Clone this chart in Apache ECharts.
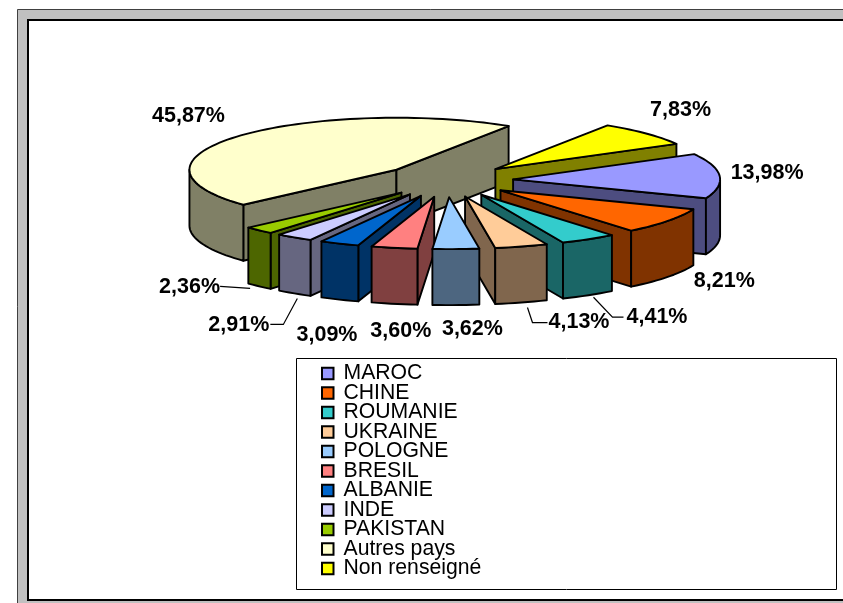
<!DOCTYPE html>
<html>
<head>
<meta charset="utf-8">
<style>html,body{margin:0;padding:0;background:#fff;overflow:hidden}#c{width:843px;height:603px}</style>
<script src="https://cdn.jsdelivr.net/npm/echarts@6/dist/echarts.min.js"></script>
</head>
<body>
<div id="c"></div>
<script>
var categories = ['MAROC','CHINE','ROUMANIE','UKRAINE','POLOGNE','BRESIL','ALBANIE','INDE','PAKISTAN','Autres pays','Non renseigné'];
var values = [13.98,8.21,4.41,4.13,3.62,3.60,3.09,2.91,2.36,45.87,7.83];
var colors = ['#9999FF','#FF6600','#33CCCC','#FFCC99','#99CCFF','#FF8080','#0066CC','#CCCCFF','#99CC00','#FFFFCC','#FFFF00'];

// Pie projection (layout only)
var CX = 447, CY = 180.5, RX = 207, RY = 52, DEPTH = 56, EXPLODE = 0.32, START_DEG = -29;
var FONT = '"Liberation Sans", Arial, sans-serif';
// Label offset from the slice's rim midpoint, in category order
var labelOffsets = [[47.5,-3],[56.5,60],[68.5,78],[57.5,76],[16.5,80],[6.5,83],[-12.5,91],[-55.5,88],[-69.5,57],[-50,-20],[34,-24]];
// Leader lines as offsets from the rim midpoint's lower edge, where present
var leaders = {2:[[5,2],[24,22],[35,22]],3:[[6,5],[11,20],[26,20]],7:[[3,5],[-11,31],[-24,31]],8:[[-9,2],[-39,0]]};

var total = values.reduce(function(a,b){return a+b;},0);
function toRad(d){return d*Math.PI/180;}
function sliceStart(i){var s=0;for(var k=0;k<i;k++)s+=values[k];return START_DEG+s/total*360;}
function darken(hex){
  var n=parseInt(hex.slice(1),16);
  var p=function(v){return ('0'+Math.round(v/2).toString(16)).slice(-2);};
  return '#'+p(n>>16&255)+p(n>>8&255)+p(n&255);
}
function rim(apex,deg,dy){return [apex[0]+RX*Math.cos(toRad(deg)),apex[1]+RY*Math.sin(toRad(deg))+(dy||0)];}
function arcPts(apex,a,b,dy){
  var pts=[],n=Math.max(2,Math.ceil((b-a)/2));
  for(var i=0;i<=n;i++)pts.push(rim(apex,a+(b-a)*i/n,dy));
  return pts;
}
var edge={stroke:'#000',lineWidth:1.9,lineJoin:'round'};
function poly(points,fill){
  return {type:'polygon',shape:{points:points},style:Object.assign({fill:fill},edge)};
}
function makeRender(i){
  return function(params,api){
    var v=api.value(0);
    var a0=sliceStart(i),a1=a0+v/total*360,mid=(a0+a1)/2;
    var apex=[CX+EXPLODE*RX*Math.cos(toRad(mid)),CY+EXPLODE*RY*Math.sin(toRad(mid))];
    var col=colors[i],dark=darken(col),kids=[];
    [[a0,Math.cos(toRad(a0))<0],[a1,Math.cos(toRad(a1))>0]].forEach(function(f){
      if(!f[1])return;
      var p=rim(apex,f[0]),q=rim(apex,f[0],DEPTH);
      kids.push(poly([apex,p,q,[apex[0],apex[1]+DEPTH]],dark));
    });
    // front curved wall: part of the arc in the lower half of the ellipse
    [[0,180],[360,540]].forEach(function(r){
      var s=Math.max(a0,r[0]),e=Math.min(a1,r[1]);
      if(e>s){
        kids.push(poly(arcPts(apex,s,e).concat(arcPts(apex,s,e,DEPTH).reverse()),dark));
      }
    });
    kids.push(poly([apex].concat(arcPts(apex,a0,a1)),col));
    var anchor=[CX+(1+EXPLODE)*RX*Math.cos(toRad(mid)),CY+(1+EXPLODE)*RY*Math.sin(toRad(mid))];
    if(leaders[i]){
      kids.push({type:'polyline',shape:{points:leaders[i].map(function(o){return [anchor[0]+o[0],anchor[1]+DEPTH+o[1]];})},
        style:{stroke:'#000',lineWidth:1.2,fill:null}});
    }
    kids.push({type:'text',style:{text:v.toFixed(2).replace('.',',')+'%',
      x:anchor[0]+labelOffsets[i][0],y:anchor[1]+labelOffsets[i][1],
      fill:'#000',font:'bold 21.5px '+FONT,textAlign:'center',textVerticalAlign:'middle'}});
    return {type:'group',children:kids};
  };
}
// paint back to front; a bigger slice reaches further back
var depthOrder=categories.map(function(_,i){
  var mid=sliceStart(i)+values[i]/total*180;
  return {i:i,y:Math.sin(toRad(mid))-values[i]/total};
}).sort(function(a,b){return a.y-b.y;}).map(function(o){return o.i;});

var series=categories.map(function(name,i){
  return {type:'custom',name:name,coordinateSystem:'none',data:[[values[i]]],
    itemStyle:{color:colors[i]},z:3+depthOrder.indexOf(i),silent:true,animation:false,
    clip:false,renderItem:makeRender(i)};
});

var chart=echarts.init(document.getElementById('c'),null,{renderer:'canvas'});
chart.setOption({
  animation:false,
  backgroundColor:'#fff',
  graphic:[
    {type:'rect',z:0,shape:{x:17.5,y:9.5,width:900,height:640},style:{fill:'#C0C0C0',stroke:'#404040',lineWidth:1}},
    {type:'rect',z:1,shape:{x:28,y:20,width:900,height:580},style:{fill:'#fff',stroke:'#000',lineWidth:2}},
    {type:'rect',z:1,shape:{x:296.5,y:358.5,width:540,height:231},style:{fill:'#fff',stroke:'#000',lineWidth:1}}
  ],
  legend:{
    show:true,orient:'vertical',left:321,top:363,height:400,padding:0,z:100,
    data:categories,selectedMode:false,icon:'rect',itemWidth:11.5,itemHeight:11.5,itemGap:-1.5,
    itemStyle:{borderColor:'#000',borderWidth:2},
    textStyle:{fontFamily:'Liberation Sans',fontSize:21.2,color:'#000',padding:[0,0,0,5]}
  },
  series:series
});
</script>
</body>
</html>
